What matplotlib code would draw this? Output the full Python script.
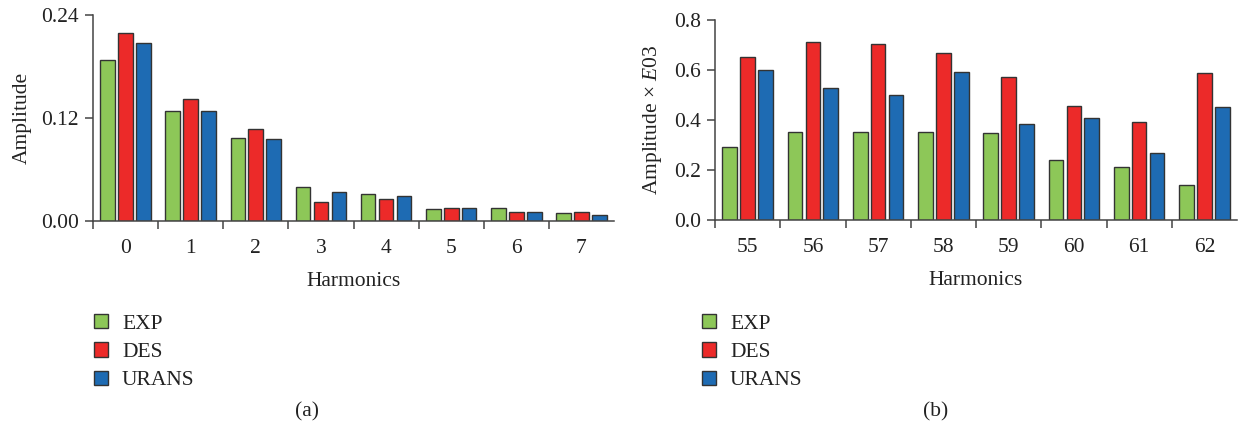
import matplotlib
matplotlib.use("Agg")
import matplotlib.pyplot as plt
import numpy as np
from matplotlib.patches import Patch

plt.rcParams['font.family'] = ['Liberation Serif', 'DejaVu Serif']
plt.rcParams['mathtext.fontset'] = 'custom'
plt.rcParams['mathtext.rm'] = 'Liberation Serif'
plt.rcParams['mathtext.it'] = 'Liberation Serif:italic'

series = ["EXP", "DES", "URANS"]
colors = ["#8dc758", "#ec2a29", "#1e6bb3"]

harm_a = ["0", "1", "2", "3", "4", "5", "6", "7"]
exp_a = [0.187, 0.128, 0.097, 0.040, 0.032, 0.014, 0.0156, 0.009]
des_a = [0.219, 0.142, 0.107, 0.0225, 0.0256, 0.0148, 0.011, 0.0105]
urans_a = [0.207, 0.1285, 0.095, 0.034, 0.0288, 0.015, 0.010, 0.0066]

harm_b = ["55", "56", "57", "58", "59", "60", "61", "62"]
exp_b = [0.292, 0.352, 0.351, 0.352, 0.349, 0.241, 0.213, 0.141]
des_b = [0.651, 0.713, 0.703, 0.669, 0.571, 0.457, 0.392, 0.587]
urans_b = [0.601, 0.529, 0.499, 0.592, 0.383, 0.409, 0.268, 0.452]

W, H = 1240, 430
fig = plt.figure(figsize=(W / 100, H / 100), dpi=100)

axA = fig.add_axes([93 / W, 1 - 221 / H, 521 / W, 206 / H])
axB = fig.add_axes([715 / W, 1 - 220 / H, 522 / W, 200 / H])

FS = 15.5
edge = "#333333"


def draw(ax, labels, data, ylim, yticks, yticklabels, ylabel, legend_xy):
    x = np.arange(len(labels))
    bw = 0.225
    step = 0.275
    for i, (vals, c, name) in enumerate(zip(data, colors, series)):
        ax.bar(x + (i - 1) * step, vals, width=bw, color=c, edgecolor=edge,
               linewidth=1.0, label=name, zorder=2)
    ax.set_xlim(-0.5, len(labels) - 0.5)
    ax.set_ylim(*ylim)
    for s in ["top", "right"]:
        ax.spines[s].set_visible(False)
    for s in ["left", "bottom"]:
        ax.spines[s].set_color("#444444")
        ax.spines[s].set_linewidth(1.1)
    ax.set_xticks(np.arange(len(labels)) - 0.5)
    ax.set_xticklabels([])
    ax.set_xticks(x, minor=True)
    ax.set_xticklabels(labels, minor=True, fontsize=FS, color="#222222")
    ax.tick_params(axis="x", which="major", direction="out", length=6, width=1.1, color="#444444")
    ax.tick_params(axis="x", which="minor", length=0, pad=13)
    ax.set_yticks(yticks)
    ax.set_yticklabels(yticklabels, fontsize=FS, color="#222222")
    ax.tick_params(axis="y", direction="out", length=6, width=1.1, color="#444444", pad=4)
    ax.set_ylabel(ylabel, fontsize=FS, color="#222222", labelpad=7)
    ax.set_xlabel("Harmonics", fontsize=FS, color="#222222", labelpad=10)
    handles = [Patch(facecolor=c, edgecolor=edge, linewidth=1.0) for c in colors]
    fig.legend(handles, series, loc="upper left",
               bbox_to_anchor=(legend_xy[0] / W, 1 - legend_xy[1] / H),
               frameon=False, fontsize=FS, handlelength=0.65, handleheight=0.65,
               handletextpad=0.65, labelspacing=0.4, borderpad=0, borderaxespad=0,
               labelcolor="#222222")


draw(axA, harm_a, [exp_a, des_a, urans_a], (0, 0.24), [0, 0.12, 0.24],
     ["0.00", "0.12", "0.24"], "Amplitude", (94, 314))
draw(axB, harm_b, [exp_b, des_b, urans_b], (0, 0.8), [0, 0.2, 0.4, 0.6, 0.8],
     ["0.0", "0.2", "0.4", "0.6", "0.8"], r"Amplitude $\times$ $\mathit{E}$03", (702, 314))

fig.text(307 / W, 1 - 412 / H, "(a)", ha="center", va="center", fontsize=FS, color="#222222")
fig.text(936 / W, 1 - 412 / H, "(b)", ha="center", va="center", fontsize=FS, color="#222222")

fig.savefig("out.png", dpi=100)
